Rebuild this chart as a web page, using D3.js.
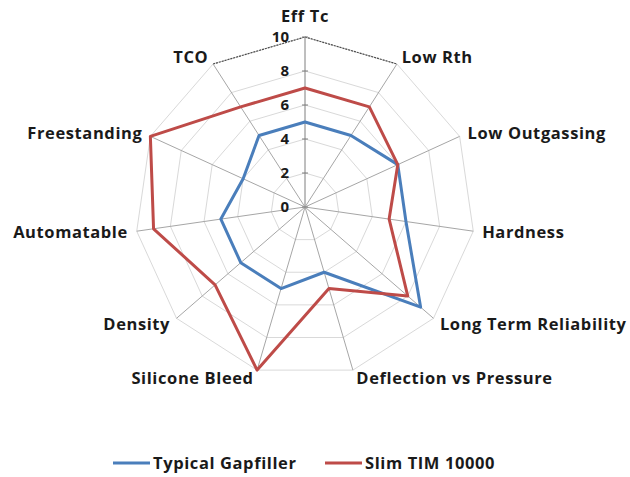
<!DOCTYPE html>
<html>
<head>
<meta charset="utf-8">
<script src="https://cdn.jsdelivr.net/npm/d3@7/dist/d3.min.js"></script>
<style>
  html, body { margin: 0; padding: 0; background: #fff; }
  svg { display: block; }
  text { font-family: "Open Sans", Lato, sans-serif; font-weight: bold; fill: #1a1a1a; }
  .lbl { font-size: 16.5px; letter-spacing: 0.6px; }
  .tick { font-size: 15px; }
</style>
</head>
<body>
<script>
const categories = ["Eff Tc", "Low Rth", "Low Outgassing", "Hardness", "Long Term Reliability",
  "Deflection vs Pressure", "Silicone Bleed", "Density", "Automatable", "Freestanding", "TCO"];
const typicalGapfiller = [5, 5, 6, 6, 9, 4, 5, 5, 5, 4, 5];
const slimTim10000 = [7, 7, 6, 5, 8, 5, 10, 7, 9, 10, 7];
const seriesNames = ["Typical Gapfiller", "Slim TIM 10000"];
const seriesColors = ["#4a7ebb", "#be4b48"];
const tickValues = [0, 2, 4, 6, 8, 10];

const W = 630, H = 477, cx = 305, cy = 207, R = 170;
const svg = d3.select("body").append("svg").attr("width", W).attr("height", H);
const g = svg.append("g").attr("transform", `translate(${cx},${cy})`);

const r = d3.scaleLinear().domain([0, 10]).range([0, R]);
const n = categories.length;
const ang = d3.scaleLinear().domain([0, n]).range([0, 2 * Math.PI]);
const pt = (i, v) => [Math.sin(ang(i)) * r(v), -Math.cos(ang(i)) * r(v)];

// grid rings
const ringLine = d3.lineRadial().angle((d, i) => ang(i)).radius(d => r(d)).curve(d3.curveLinearClosed);
tickValues.filter(t => t > 0).forEach(t => {
  g.append("path").attr("d", ringLine(categories.map(() => t)))
    .attr("fill", "none").attr("stroke", "#d9d9d9").attr("stroke-width", 1);
});
// darker dotted outer top segments
[[n - 1, 0], [0, 1]].forEach(([a, b]) => {
  const p1 = pt(a, 10), p2 = pt(b, 10);
  g.append("line").attr("x1", p1[0]).attr("y1", p1[1]).attr("x2", p2[0]).attr("y2", p2[1])
    .attr("stroke", "#4d4d4d").attr("stroke-width", 1.2).attr("stroke-dasharray", "2,1");
});
// spokes
categories.forEach((c, i) => {
  const p = pt(i, 10);
  g.append("line").attr("x1", 0).attr("y1", 0).attr("x2", p[0]).attr("y2", p[1])
    .attr("stroke", i === 0 ? "#7f7f7f" : "#a6a6a6").attr("stroke-width", 1);
});
// value axis ticks
tickValues.forEach(t => {
  g.append("line").attr("x1", -3).attr("x2", 3).attr("y1", -r(t)).attr("y2", -r(t))
    .attr("stroke", "#7f7f7f").attr("stroke-width", 1);
  g.append("text").attr("class", "tick").attr("x", -16).attr("y", -r(t)).attr("dy", "0.36em")
    .attr("text-anchor", "end").text(t);
});

// series
const seriesLine = d3.lineRadial().angle((d, i) => ang(i)).radius(d => r(d)).curve(d3.curveLinearClosed);
[typicalGapfiller, slimTim10000].forEach((vals, k) => {
  g.append("path").attr("d", seriesLine(vals)).attr("fill", "none")
    .attr("stroke", seriesColors[k]).attr("stroke-width", 3).attr("stroke-linejoin", "round");
});

// category labels
categories.forEach((c, i) => {
  const p = pt(i, 10);
  const s = Math.sin(ang(i)), co = Math.cos(ang(i));
  let anchor, x, y;
  if (Math.abs(s) < 0.1) { anchor = "middle"; x = p[0]; y = p[1] - 15; }
  else {
    anchor = s > 0 ? "start" : "end";
    x = p[0] + Math.sign(s) * (3 + 6 * s * s);
    y = p[1] + 6 - 8 * co;
  }
  g.append("text").attr("class", "lbl").attr("x", x).attr("y", y).attr("text-anchor", anchor).text(c);
});

// legend
const legendX = [113, 325];
seriesNames.forEach((name, k) => {
  const lg = svg.append("g").attr("transform", `translate(${legendX[k]},463)`);
  lg.append("line").attr("x1", 0).attr("x2", 37).attr("y1", 0).attr("y2", 0)
    .attr("stroke", seriesColors[k]).attr("stroke-width", 3);
  lg.append("text").attr("class", "lbl").attr("x", 40).attr("y", 5.5).text(name);
});
</script>
</body>
</html>
